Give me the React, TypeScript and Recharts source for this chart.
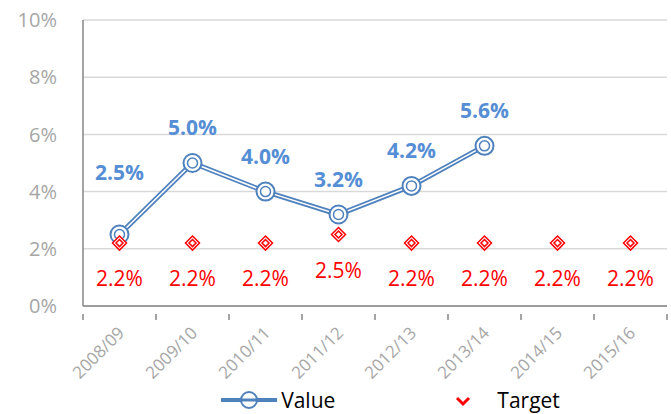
import { CartesianGrid, Legend, Line, LineChart, XAxis, YAxis } from "recharts";

const categories = ["2008/09", "2009/10", "2010/11", "2011/12", "2012/13", "2013/14", "2014/15", "2015/16"];
const values: (number | null)[] = [2.5, 5.0, 4.0, 3.2, 4.2, 5.6, null, null];
const targets = [2.2, 2.2, 2.2, 2.5, 2.2, 2.2, 2.2, 2.2];
const yTicks = [0, 2, 4, 6, 8, 10];

const BLUE = "#4f81bd";
const BLUE_LABEL = "#558ed5";
const RED = "#ff0000";
const GRAY = "#a6a6a6";
const AXIS = "#868686";
const FONT = "'Open Sans', 'Noto Sans', sans-serif";

const data = categories.map((c, i) => ({ x: i + 0.5, name: c, value: values[i], target: targets[i] }));
// ticks at category edges (integers) and category centres (halves)
const xTicks = Array.from({ length: categories.length * 2 + 1 }, (_, i) => i / 2);

function XTick(props: any) {
  const { x, y, payload } = props;
  const v = payload.value as number;
  if (Number.isInteger(v)) {
    return <line x1={x} x2={x} y1={y} y2={y + 6} stroke={AXIS} strokeWidth={1.5} />;
  }
  const label = categories[Math.floor(v)];
  const ax = x + 6;
  const ay = y + 20;
  return (
    <text x={ax} y={ay} transform={`rotate(-45 ${ax} ${ay})`} textAnchor="end" fill={GRAY} fontSize={17} fontFamily={FONT}>
      {label}
    </text>
  );
}

function ValueDot(props: any) {
  const { cx, cy, payload } = props;
  if (payload.value == null || cx == null) return null;
  return (
    <g>
      <circle cx={cx} cy={cy} r={9} fill="#fff" stroke={BLUE} strokeWidth={2} />
      <circle cx={cx} cy={cy} r={5} fill="#fff" stroke={BLUE} strokeWidth={1.5} />
    </g>
  );
}

function TargetDot(props: any) {
  const { cx, cy } = props;
  if (cx == null) return null;
  const d = (r: number) => `M${cx},${cy - r}L${cx + r},${cy}L${cx},${cy + r}L${cx - r},${cy}Z`;
  return (
    <g>
      <path d={d(7)} fill="#fff" stroke={RED} strokeWidth={1.5} />
      <path d={d(3.5)} fill="none" stroke={RED} strokeWidth={1.5} />
    </g>
  );
}

function ValueLabel(props: any) {
  const { x, y, value, index } = props;
  if (value == null) return null;
  const up = index === 0 ? 62 : 35;
  return (
    <text x={x} y={y - up} dy="0.35em" textAnchor="middle" fill={BLUE_LABEL} fontSize={21} fontWeight={700} fontFamily={FONT}>
      {`${Number(value).toFixed(1)}%`}
    </text>
  );
}

function TargetLabel(props: any) {
  const { x, y, value } = props;
  return (
    <text x={x} y={y + 36} dy="0.35em" textAnchor="middle" fill={RED} fontSize={21} fontFamily={FONT}>
      {`${Number(value).toFixed(1)}%`}
    </text>
  );
}

function LegendContent() {
  return (
    <div style={{ display: "flex", justifyContent: "center", alignItems: "center", fontFamily: FONT, fontSize: 21, lineHeight: 1, color: "#000", paddingLeft: 112, paddingTop: 11 }}>
      <svg width={60} height={22}>
        <line x1={2} x2={58} y1={11} y2={11} stroke={BLUE} strokeWidth={4} />
        <circle cx={30} cy={11} r={8} fill="#fff" stroke={BLUE} strokeWidth={2} />
        <line x1={22} x2={38} y1={11} y2={11} stroke={BLUE} strokeWidth={3} />
      </svg>
      <span style={{ marginLeft: 2 }}>Value</span>
      <svg width={20} height={22} style={{ marginLeft: 118 }}>
        <path d="M4,9L10,15L16,9" fill="none" stroke={RED} strokeWidth={3} />
      </svg>
      <span style={{ marginLeft: 24 }}>Target</span>
    </div>
  );
}

export default function App() {
  return (
    <div style={{ width: 671, height: 414, background: "#fff", overflow: "hidden" }}>
      <style>{"body{margin:0}"}</style>
      <LineChart width={671} height={414} data={data} margin={{ top: 20, right: 4, left: 0, bottom: 0 }}>
        <CartesianGrid horizontal vertical={false} stroke="#d9d9d9" strokeWidth={1.5} />
        <XAxis
          dataKey="x"
          type="number"
          domain={[0, categories.length]}
          ticks={xTicks}
          interval={0}
          height={72}
          tickLine={false}
          tick={<XTick />}
          stroke={AXIS}
          strokeWidth={1.5}
        />
        <YAxis
          domain={[0, 10]}
          ticks={yTicks}
          width={83}
          tickLine={false}
          tickSize={0}
          tickMargin={26}
          tickFormatter={(v: number) => `${v}%`}
          tick={{ fill: GRAY, fontSize: 20, fontFamily: FONT }}
          stroke={AXIS}
          strokeWidth={1.5}
        />
        <Legend verticalAlign="bottom" height={36} content={<LegendContent />} />
        <Line dataKey="value" stroke={BLUE} strokeWidth={5} dot={false} activeDot={false} isAnimationActive={false} legendType="none" />
        <Line dataKey="value" stroke="#fff" strokeWidth={1.5} dot={false} activeDot={false} isAnimationActive={false} legendType="none" />
        <Line dataKey="value" stroke="none" dot={<ValueDot />} activeDot={false} label={<ValueLabel />} isAnimationActive={false} />
        <Line dataKey="target" stroke="none" dot={<TargetDot />} activeDot={false} label={<TargetLabel />} isAnimationActive={false} />
      </LineChart>
    </div>
  );
}
